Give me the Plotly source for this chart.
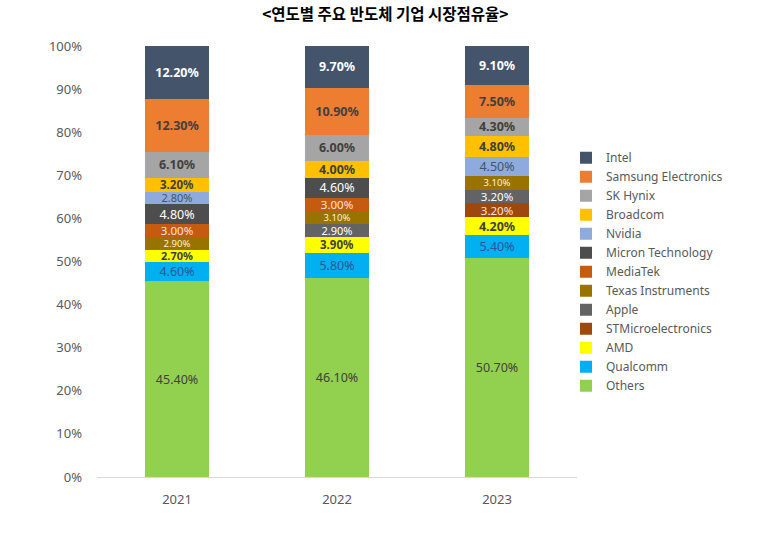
import plotly.graph_objects as go

years = ["2021", "2022", "2023"]

# stack order bottom -> top
companies = ["Others", "Qualcomm", "AMD", "STMicroelectronics", "Apple",
             "Texas Instruments", "MediaTek", "Micron Technology", "Nvidia",
             "Broadcom", "SK Hynix", "Samsung Electronics", "Intel"]

others = [45.4, 46.1, 50.7]
qualcomm = [4.6, 5.8, 5.4]
amd = [2.7, 3.9, 4.2]
stmicro = [None, None, 3.2]
apple = [None, 2.9, 3.2]
texas = [2.9, 3.1, 3.1]
mediatek = [3.0, 3.0, None]
micron = [4.8, 4.6, None]
nvidia = [2.8, None, 4.5]
broadcom = [3.2, 4.0, 4.8]
skhynix = [6.1, 6.0, 4.3]
samsung = [12.3, 10.9, 7.5]
intel = [12.2, 9.7, 9.1]

values = [others, qualcomm, amd, stmicro, apple, texas, mediatek, micron,
          nvidia, broadcom, skhynix, samsung, intel]

colors = ["#92D050", "#00B0F0", "#FFFF00", "#9E480E", "#636363", "#997300",
          "#C55A11", "#4D4D4D", "#8FAADC", "#FFC000", "#A5A5A5", "#ED7D31",
          "#44546A"]
text_colors = ["#404040", "#2F5597", "#404040", "#FBE5D6", "#FFFFFF", "#FFF2CC",
               "#FBE5D6", "#FFFFFF", "#44546A", "#404040", "#404040", "#404040",
               "#FFFFFF"]
bold = [False, False, True, False, False, False, False, False, False, True,
        True, True, True]
small_label = [False, False, False, False, False, True, False, False, False,
               False, False, False, False]

fig = go.Figure()
for name, vals, c, tc, b, sm in zip(companies, values, colors, text_colors, bold, small_label):
    texts = []
    sizes = []
    for v in vals:
        if v is None:
            texts.append("")
            sizes.append(12)
        else:
            s = f"{v:.2f}%"
            texts.append(f"<b>{s}</b>" if b else s)
            if sm:
                sizes.append(9.5)
            elif v < 3.0:
                sizes.append(11)
            elif v < 4.0:
                sizes.append(11.5)
            else:
                sizes.append(12.5)
    fig.add_trace(go.Bar(
        x=years, y=vals, name=name, marker=dict(color=c, line=dict(width=0)),
        text=texts, textposition="inside", insidetextanchor="middle",
        textangle=0, constraintext="none",
        textfont=dict(color=tc, size=sizes, family="Noto Sans, Noto Sans CJK KR"),
        hoverinfo="skip",
    ))

fig.update_layout(
    barmode="stack",
    bargap=0.6,
    width=766, height=543,
    margin=dict(l=97, r=189, t=46, b=66),
    paper_bgcolor="white", plot_bgcolor="white",
    font=dict(family="Noto Sans, Noto Sans CJK KR", color="#595959", size=13),
    title=dict(text="<b><연도별 주요 반도체 기업 시장점유율></b>",
               x=0.503, xref="container", xanchor="center",
               y=1 - 15 / 543, yanchor="middle",
               font=dict(family="Noto Sans CJK KR", size=15.5, color="#000000")),
    showlegend=True,
    legend=dict(xref="paper", x=1 + (566 - 577) / 480, y=0.7744,
                xanchor="left", yanchor="top",
                traceorder="reversed", font=dict(size=12, color="#595959"),
                itemwidth=30, tracegroupgap=0, bgcolor="rgba(0,0,0,0)"),
    uniformtext=dict(mode=False),
)
fig.update_xaxes(showgrid=False, showline=True, linecolor="#D9D9D9", linewidth=1,
                 ticks="", ticklabelstandoff=10, tickfont=dict(size=13, color="#595959"))
fig.update_yaxes(range=[0, 100], dtick=10, ticksuffix="%", showgrid=False,
                 zeroline=False, showline=False, ticklabelstandoff=14,
                 tickfont=dict(size=13, color="#595959"))

fig.write_html("out.html", config={"displayModeBar": False},
               post_script="document.body.style.margin='0';")
